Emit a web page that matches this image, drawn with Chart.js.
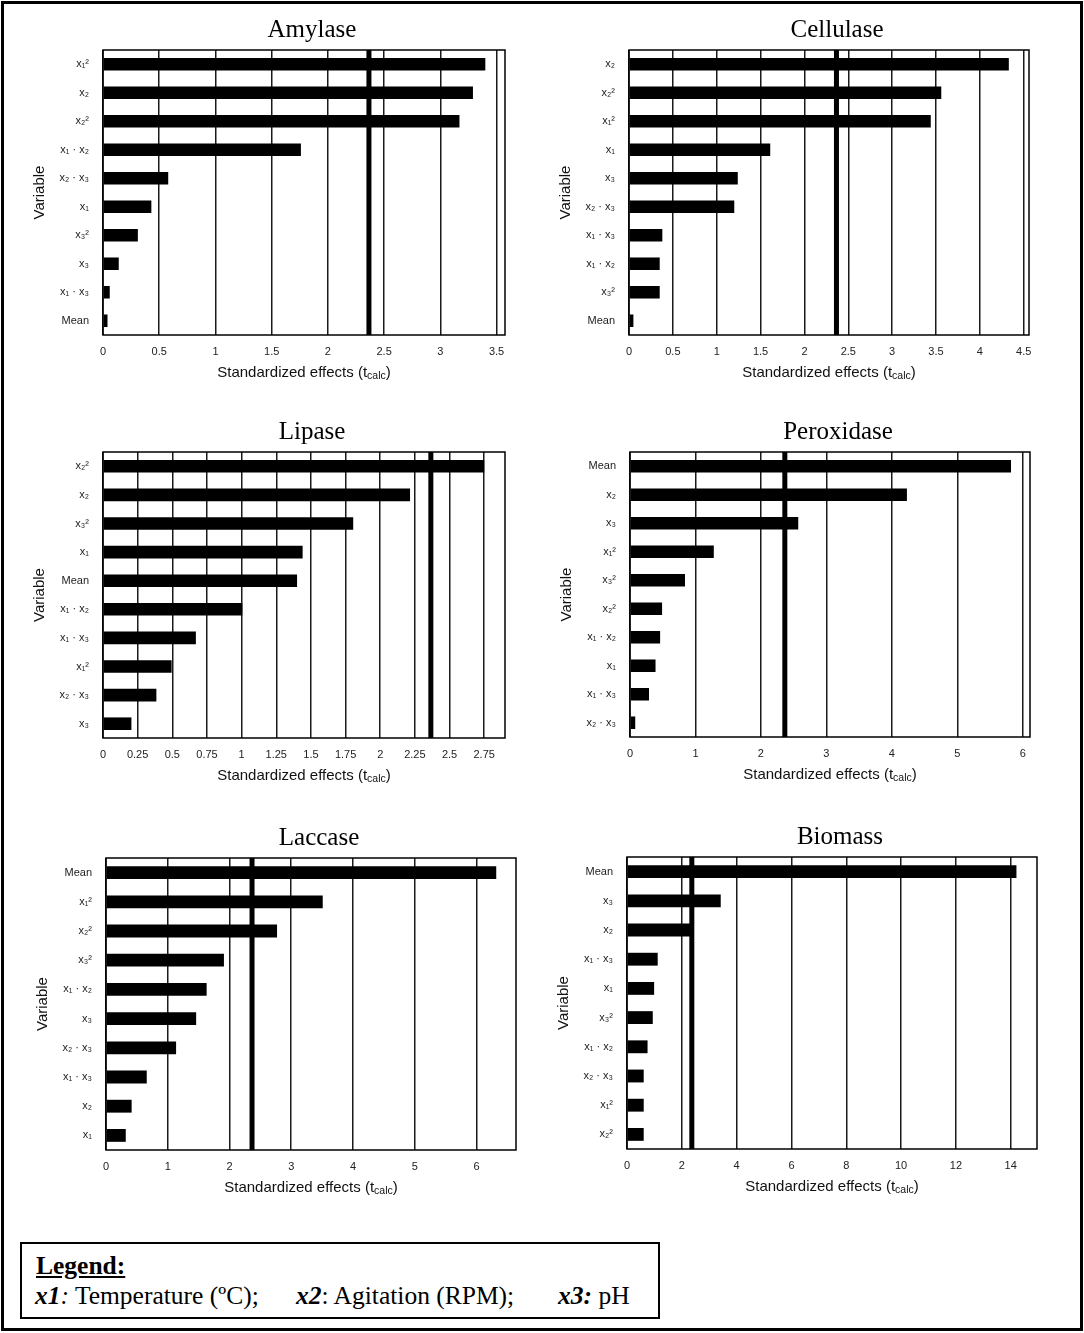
<!DOCTYPE html>
<html><head><meta charset="utf-8">
<script src="https://cdn.jsdelivr.net/npm/chart.js@4.4.1/dist/chart.umd.min.js"></script>
<style>
html,body{margin:0;padding:0;background:#fff;}
body{width:1084px;height:1333px;position:relative;overflow:hidden;}
#frame{position:absolute;left:1px;top:1px;width:1082px;height:1330px;border:3px solid #000;box-sizing:border-box;}
canvas{position:absolute;}
#legend{position:absolute;left:20px;top:1242px;width:640px;height:77px;border:2px solid #000;box-sizing:border-box;font-family:'Liberation Serif','Times New Roman',serif;font-size:25.5px;color:#000;}
#legend div{position:absolute;white-space:nowrap;}
</style></head><body>
<div id="frame"></div>
<div id="legend">
  <div style="left:14px;top:7px;font-weight:bold;text-decoration:underline;">Legend:</div>
  <div style="left:13px;top:37px;"><b><i>x1</i></b><i>:</i> Temperature (ºC);</div>
  <div style="left:274px;top:37px;"><b><i>x2</i></b>: Agitation (RPM);</div>
  <div style="left:536px;top:37px;"><b><i>x3:</i></b> pH</div>
</div>
<script>
// ---------- DATA ----------
const panelTitles = ['Amylase', 'Cellulase', 'Lipase', 'Peroxidase', 'Laccase', 'Biomass'];

const amylaseLabels = ['x₁²', 'x₂', 'x₂²', 'x₁ · x₂', 'x₂ · x₃', 'x₁', 'x₃²', 'x₃', 'x₁ · x₃', 'Mean'];
const amylaseValues = [3.40, 3.29, 3.17, 1.76, 0.58, 0.43, 0.31, 0.14, 0.06, 0.04];

const cellulaseLabels = ['x₂', 'x₂²', 'x₁²', 'x₁', 'x₃', 'x₂ · x₃', 'x₁ · x₃', 'x₁ · x₂', 'x₃²', 'Mean'];
const cellulaseValues = [4.33, 3.56, 3.44, 1.61, 1.24, 1.20, 0.38, 0.35, 0.35, 0.05];

const lipaseLabels = ['x₂²', 'x₂', 'x₃²', 'x₁', 'Mean', 'x₁ · x₂', 'x₁ · x₃', 'x₁²', 'x₂ · x₃', 'x₃'];
const lipaseValues = [2.75, 2.215, 1.805, 1.44, 1.40, 1.005, 0.67, 0.495, 0.385, 0.205];

const peroxidaseLabels = ['Mean', 'x₂', 'x₃', 'x₁²', 'x₃²', 'x₂²', 'x₁ · x₂', 'x₁', 'x₁ · x₃', 'x₂ · x₃'];
const peroxidaseValues = [5.82, 4.23, 2.57, 1.28, 0.84, 0.49, 0.46, 0.39, 0.29, 0.08];

const laccaseLabels = ['Mean', 'x₁²', 'x₂²', 'x₃²', 'x₁ · x₂', 'x₃', 'x₂ · x₃', 'x₁ · x₃', 'x₂', 'x₁'];
const laccaseValues = [6.32, 3.51, 2.77, 1.91, 1.63, 1.46, 1.135, 0.66, 0.415, 0.32];

const biomassLabels = ['Mean', 'x₃', 'x₂', 'x₁ · x₃', 'x₁', 'x₃²', 'x₁ · x₂', 'x₂ · x₃', 'x₁²', 'x₂²'];
const biomassValues = [14.21, 3.42, 2.39, 1.12, 0.99, 0.94, 0.75, 0.61, 0.61, 0.61];

const criticalT = [2.365, 2.365, 2.365, 2.365, 2.365, 2.365];
const axisMax = [3.575, 4.56, 2.9, 6.11, 6.64, 14.96];
const axisStep = [0.5, 0.5, 0.25, 1, 1, 2];

const xAxisTitle = ['Standardized effects (t', 'calc', ')'];
const yAxisTitle = 'Variable';

// ---------- LAYOUT (plot-area rectangles: left, top, right, bottom) ----------
const plotRects = [
  [103, 50, 505, 335],
  [629, 50, 1029, 335],
  [103, 452, 505, 738],
  [630, 452, 1030, 737],
  [106, 858, 516, 1150],
  [627, 857, 1037, 1149]
];
const Y_AXIS_W = 78, PAD_TOP = 45, PAD_RIGHT = 20, X_AXIS_H = 50;

const panelLabels = [amylaseLabels, cellulaseLabels, lipaseLabels, peroxidaseLabels, laccaseLabels, biomassLabels];
const panelValues = [amylaseValues, cellulaseValues, lipaseValues, peroxidaseValues, laccaseValues, biomassValues];

const SANS = '"Liberation Sans", Arial, sans-serif';
const SERIF = '"Liberation Serif", "Times New Roman", serif';

const decor = {
  id: 'decor',
  beforeDatasetsDraw(chart, args, opts) {
    const {ctx, chartArea: a, scales: {x}} = chart;
    const px = x.getPixelForValue(opts.crit);
    ctx.save();
    ctx.fillStyle = '#000';
    ctx.fillRect(px - 2.5, a.top, 5, a.bottom - a.top);
    ctx.restore();
  },
  afterDraw(chart, args, opts) {
    const {ctx, chartArea: a} = chart;
    ctx.save();
    ctx.strokeStyle = '#000';
    ctx.lineWidth = 1.5;
    ctx.strokeRect(a.left, a.top, a.right - a.left, a.bottom - a.top);
    // panel title
    ctx.fillStyle = '#000';
    ctx.font = '25px ' + SERIF;
    ctx.textAlign = 'center';
    ctx.textBaseline = 'middle';
    ctx.fillText(opts.title, (a.left + a.right) / 2 + 8, a.top - 20);
    // x axis title with subscript
    ctx.textAlign = 'left';
    ctx.textBaseline = 'alphabetic';
    ctx.fillStyle = '#111';
    ctx.font = '15px ' + SANS;
    const w1 = ctx.measureText(xAxisTitle[0]).width;
    const w3 = ctx.measureText(xAxisTitle[2]).width;
    ctx.font = '10.5px ' + SANS;
    const w2 = ctx.measureText(xAxisTitle[1]).width;
    let sx = (a.left + a.right) / 2 - (w1 + w2 + w3) / 2;
    const by = a.bottom + 42;
    ctx.font = '15px ' + SANS;
    ctx.fillText(xAxisTitle[0], sx, by);
    ctx.font = '10.5px ' + SANS;
    ctx.fillText(xAxisTitle[1], sx + w1, by + 2);
    ctx.font = '15px ' + SANS;
    ctx.fillText(xAxisTitle[2], sx + w1 + w2, by);
    ctx.restore();
  }
};

panelTitles.forEach((title, i) => {
  const [L, T, R, B] = plotRects[i];
  const cv = document.createElement('canvas');
  const w = (R - L) + Y_AXIS_W + PAD_RIGHT;
  const h = (B - T) + PAD_TOP + X_AXIS_H;
  cv.width = w; cv.height = h;
  cv.style.width = w + 'px'; cv.style.height = h + 'px';
  cv.style.left = (L - Y_AXIS_W) + 'px';
  cv.style.top = (T - PAD_TOP) + 'px';
  document.body.appendChild(cv);
  const step = axisStep[i];
  new Chart(cv, {
    type: 'bar',
    data: {
      labels: panelLabels[i],
      datasets: [{
        data: panelValues[i],
        backgroundColor: '#000',
        borderWidth: 0,
        barPercentage: 0.44,
        categoryPercentage: 1
      }]
    },
    options: {
      indexAxis: 'y',
      responsive: false,
      animation: false,
      devicePixelRatio: 1,
      layout: {padding: {top: PAD_TOP, right: PAD_RIGHT, left: 0, bottom: 0}},
      plugins: {
        legend: {display: false},
        tooltip: {enabled: false},
        decor: {crit: criticalT[i], title: title}
      },
      scales: {
        x: {
          type: 'linear',
          min: 0,
          max: axisMax[i],
          grid: {color: '#1a1a1a', lineWidth: 1.5, drawTicks: false},
          border: {display: false},
          ticks: {
            stepSize: step,
            includeBounds: false,
            autoSkip: false,
            maxRotation: 0,
            padding: 10,
            color: '#222',
            font: {family: SANS, size: 11},
            callback: v => String(parseFloat(Number(v).toFixed(3)))
          },
          afterBuildTicks: s => {
            s.ticks = s.ticks.filter(t => Math.abs(t.value / step - Math.round(t.value / step)) < 1e-6);
          },
          afterFit: s => { s.height = X_AXIS_H; }
        },
        y: {
          grid: {display: false, drawTicks: false},
          border: {display: false},
          ticks: {padding: 14, color: '#222', font: {family: SANS, size: 11}},
          title: {display: true, text: yAxisTitle, color: '#111', font: {family: SANS, size: 15}, padding: {top: 6, bottom: 0}},
          afterFit: s => { s.width = Y_AXIS_W; }
        }
      }
    },
    plugins: [decor]
  });
});
</script>
</body></html>
